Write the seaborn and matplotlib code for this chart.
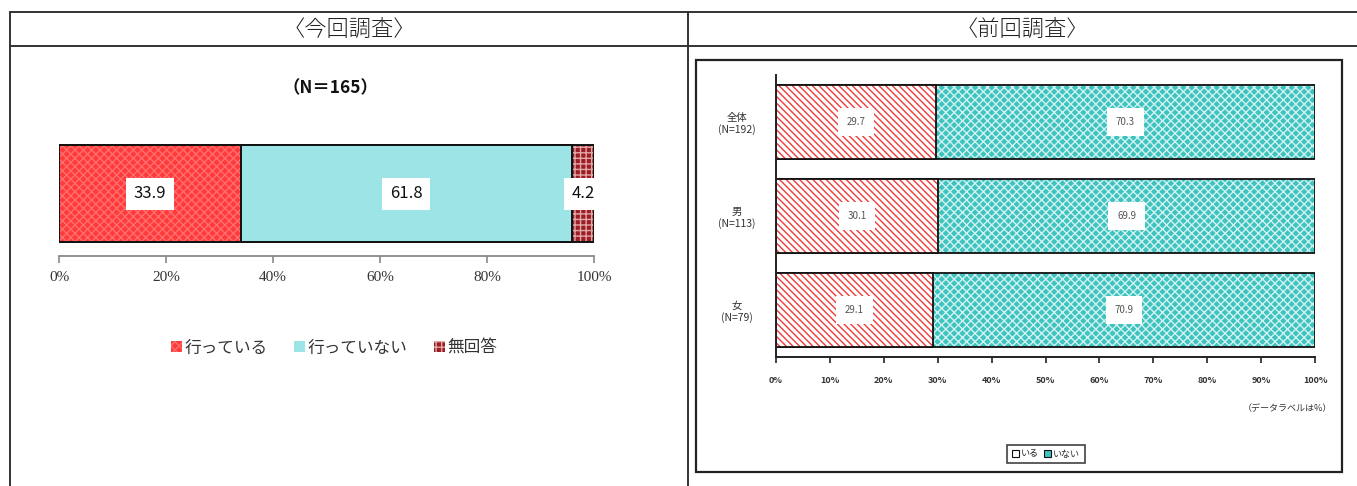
import numpy as np
import pandas as pd
import matplotlib
matplotlib.use("Agg")
import matplotlib.pyplot as plt
from matplotlib.patches import Rectangle, Patch
from matplotlib.lines import Line2D
import seaborn as sns

# ---- data -------------------------------------------------------------
current_labels = ["行っている", "行っていない", "無回答"]
current_values = [33.9, 61.8, 4.2]
current_title = "（N＝165）"

prev_groups = ["全体\n(N=192)", "男\n(N=113)", "女\n(N=79)"]
prev_yes = [29.7, 30.1, 29.1]
prev_no = [70.3, 69.9, 70.9]
prev_labels = ["いる", "いない"]

x_ticks_current = [0, 20, 40, 60, 80, 100]
x_ticks_prev = [0, 10, 20, 30, 40, 50, 60, 70, 80, 90, 100]

# ---- style ------------------------------------------------------------
sns.set_theme(style="white")
plt.rcParams["font.family"] = ["Noto Sans CJK JP", "DejaVu Sans"]
plt.rcParams["hatch.linewidth"] = 1.0

W, H = 1357, 486
fig = plt.figure(figsize=(W / 100, H / 100), dpi=100)


def fx(px):
    return px / W


def fy(py):
    return 1 - py / H


def stacked_layer(ax, frame, value_col, group_col, order, face, width,
                  hatch=None, hatch_color=None, edge_lw=1.2):
    """Draw one cumulative layer of a horizontal stacked bar with seaborn."""
    start = len(ax.patches)
    sns.barplot(data=frame, x=value_col, y=group_col, order=order,
                orient="h", color=face, saturation=1, width=width,
                errorbar=None, linewidth=0, ax=ax)
    bars = list(ax.patches[start:])
    for b in bars:
        b.set_facecolor(face)
        b.set_linewidth(0)
        if hatch:
            ax.add_patch(Rectangle(b.get_xy(), b.get_width(), b.get_height(),
                                   facecolor="none", edgecolor=hatch_color,
                                   linewidth=0, hatch=hatch))
        ax.add_patch(Rectangle(b.get_xy(), b.get_width(), b.get_height(),
                               facecolor="none", edgecolor="#111111",
                               linewidth=edge_lw))
    return bars


# ---- table frame ----------------------------------------------------------
line_kw = dict(color="#333333", linewidth=1.4, transform=fig.transFigure)
fig.add_artist(Line2D([fx(10), 1.0], [fy(12), fy(12)], **line_kw))
fig.add_artist(Line2D([fx(10), 1.0], [fy(46), fy(46)], **line_kw))
fig.add_artist(Line2D([fx(10), fx(10)], [fy(12), 0], **line_kw))
fig.add_artist(Line2D([fx(688), fx(688)], [fy(12), 0], **line_kw))

fig.text(fx(349), fy(30), "〈今回調査〉", ha="center", va="center",
         fontsize=16, color="#222222", fontweight="light")
fig.text(fx(1022), fy(30), "〈前回調査〉", ha="center", va="center",
         fontsize=16, color="#222222", fontweight="light")

# ---- current survey ---------------------------------------------------
ax1 = fig.add_axes([fx(59), fy(256), fx(594) - fx(59), (256 - 130) / H])
total = sum(current_values)
cum = np.cumsum(current_values) / total * 100
cur_df = pd.DataFrame({"group": ["今回"] * len(current_values),
                       "label": current_labels,
                       "cum": cum})
cur_faces = ["#FF3A3A", "#9CE4E6", "#9A1E26"]
cur_hatch = ["xxxx", None, "+++"]
cur_hatch_col = ["#FF6E6E", None, "#E2A6A6"]
for i in reversed(range(len(current_values))):
    stacked_layer(ax1, cur_df.iloc[[i]], "cum", "group", ["今回"],
                  cur_faces[i], 0.8, cur_hatch[i], cur_hatch_col[i], 1.4)

starts = np.concatenate([[0], cum[:-1]])
for s, e, v in zip(starts, cum, current_values):
    ax1.text((s + e) / 2, 0, f"{v:.1f}", ha="center", va="center",
             fontsize=12, color="#111111",
             bbox=dict(boxstyle="square,pad=0.45", facecolor="white",
                       edgecolor="none"))

ax1.set_xlim(0, 100)
ax1.set_ylim(0.515, -0.524)
ax1.set_xticks(x_ticks_current, [f"{t}%" for t in x_ticks_current],
               family=["Liberation Serif", "DejaVu Serif"], fontsize=11,
               color="#333333")
ax1.set_yticks([])
ax1.set_xlabel("")
ax1.set_ylabel("")
for side in ["left", "top", "right"]:
    ax1.spines[side].set_visible(False)
ax1.spines["bottom"].set_color("#8a8a8a")
ax1.spines["bottom"].set_linewidth(1.3)
ax1.tick_params(axis="x", direction="out", length=5, width=1.2,
                color="#8a8a8a", pad=6, bottom=True)
ax1.set_facecolor("none")

fig.text(fx(330), fy(88), current_title, ha="center", va="center",
         fontsize=12.5, fontweight="bold", color="#111111")

cur_handles = [Patch(facecolor=cur_faces[i], edgecolor=cur_hatch_col[i] or cur_faces[i],
                     hatch=cur_hatch[i], linewidth=0)
               for i in range(len(current_values))]
fig.legend(cur_handles, current_labels, loc="center", ncol=3,
           bbox_to_anchor=(fx(334), fy(348)), frameon=False, fontsize=12,
           handlelength=0.65, handleheight=0.65, handletextpad=0.15,
           columnspacing=1.6, labelcolor="#333333")

# ---- previous survey --------------------------------------------------
fig.add_artist(Rectangle((fx(696), fy(472)), fx(1342) - fx(696),
                         (472 - 60) / H, transform=fig.transFigure,
                         facecolor="none", edgecolor="#222222",
                         linewidth=1.6))

teal = "#3EC3BF"
ax2 = fig.add_axes([fx(776), fy(357), fx(1315) - fx(776), (357 - 75) / H])
prev_df = pd.DataFrame({"group": prev_groups,
                        "yes": prev_yes,
                        "total": np.array(prev_yes) + np.array(prev_no)})
stacked_layer(ax2, prev_df, "total", "group", prev_groups, teal, 0.78,
              "xxxx", "#D2F2F1", 1.3)
stacked_layer(ax2, prev_df, "yes", "group", prev_groups, "#FFFFFF", 0.78,
              "\\\\\\\\\\", "#F03A3A", 1.3)

for i, (y, n) in enumerate(zip(prev_yes, prev_no)):
    for xc, v in [(y / 2, y), (y + n / 2, n)]:
        ax2.text(xc, i, f"{v:.1f}", ha="center", va="center",
                 fontsize=7, color="#555555",
                 bbox=dict(boxstyle="square,pad=0.9", facecolor="white",
                           edgecolor="none"))

ax2.set_xlim(0, 100)
ax2.set_ylim(2.5, -0.5)
ax2.set_xticks(x_ticks_prev, [f"{t}%" for t in x_ticks_prev],
               fontsize=6.5, color="#333333", fontweight="bold")
ax2.set_yticks(range(len(prev_groups)), prev_groups, fontsize=7.5,
               color="#333333")
for lab in ax2.get_yticklabels():
    lab.set_multialignment("center")
    lab.set_horizontalalignment("center")
ax2.tick_params(axis="y", length=0, pad=28)
ax2.tick_params(axis="x", direction="out", length=4, width=1.2,
                color="#222222", pad=10, bottom=True)
ax2.set_xlabel("")
ax2.set_ylabel("")
for side in ["top", "right"]:
    ax2.spines[side].set_visible(False)
for side in ["left", "bottom"]:
    ax2.spines[side].set_color("#222222")
    ax2.spines[side].set_linewidth(1.4)
ax2.set_facecolor("none")

fig.text(fx(1332), fy(409), "（データラベルは%）", ha="right", va="center",
         fontsize=6.5, color="#333333")

prev_handles = [Patch(facecolor="#FFFFFF", edgecolor="#111111", linewidth=0.8),
                Patch(facecolor=teal, edgecolor="#111111", linewidth=0.8)]
leg2 = fig.legend(prev_handles, prev_labels, loc="center", ncol=2,
                  bbox_to_anchor=(fx(1046), fy(454)), frameon=True,
                  fontsize=6.5, handlelength=0.8, handleheight=0.8,
                  handletextpad=0.2, columnspacing=0.6, borderpad=0.5,
                  fancybox=False, edgecolor="#111111")
leg2.get_frame().set_linewidth(1.2)

fig.savefig("out.png", dpi=100)
